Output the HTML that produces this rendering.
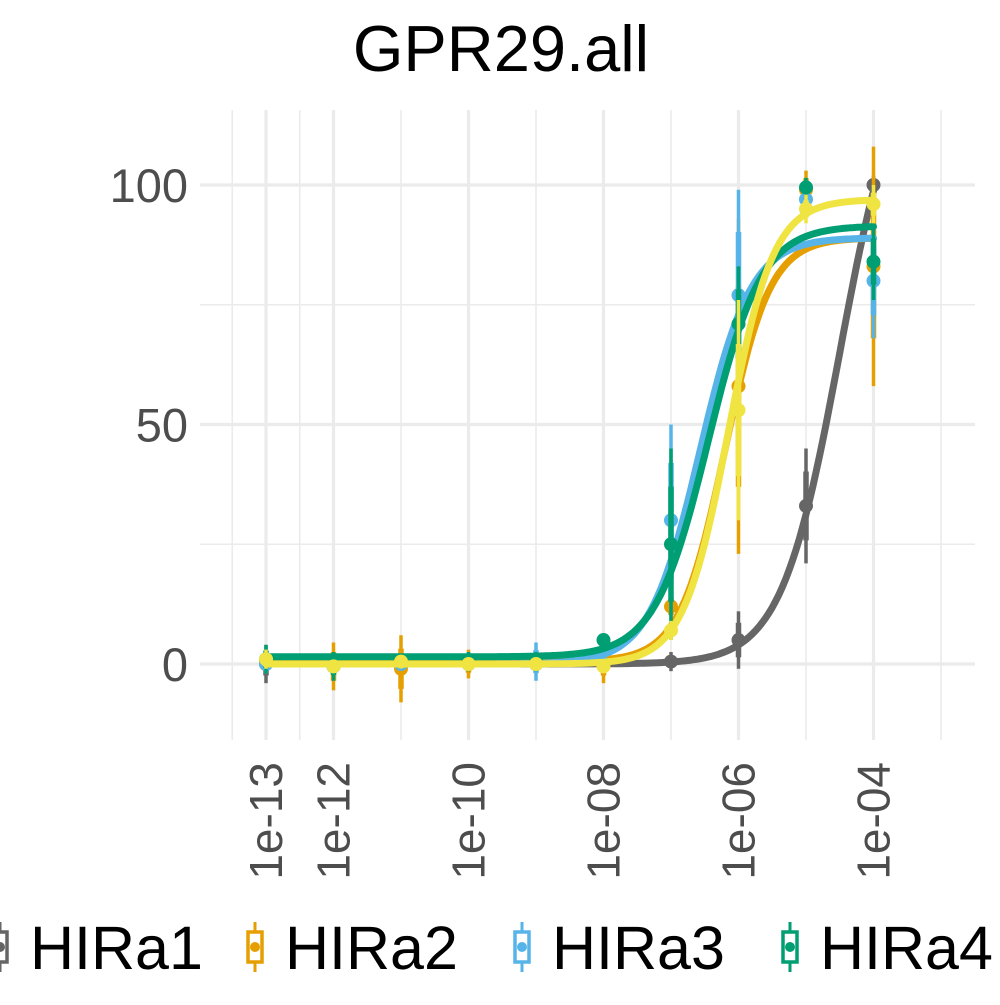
<!DOCTYPE html>
<html><head><meta charset="utf-8"><style>
body{margin:0;background:#fff;}
svg text{font-family:"Liberation Sans",Arial,sans-serif;}
</style></head><body>
<svg id="chart" width="1000" height="1000" viewBox="0 0 1000 1000" xmlns="http://www.w3.org/2000/svg">
<text x="501" y="71" font-size="65" text-anchor="middle" fill="#000">GPR29.all</text>
<g id="grid"></g>
<g id="series"></g>
<g id="axes"></g>
<g id="legend"></g>
</svg>
<script>
const doses = [-13,-12,-11,-10,-9,-8,-7,-6,-5,-4];
const seriesNames = ["HIRa1","HIRa2","HIRa3","HIRa4","HIRa5"];
const seriesColors = ["#666666","#E69F00","#56B4E9","#009E73","#F0E442"];
const hira1 = [0,0,0,0,0,0,0.5,5,33,100];
const hira2 = [0.5,-0.5,-1,0,0,0,12,58,99,83];
const hira3 = [0,0,0,0.5,0.5,0,30,77,97,80];
const hira4 = [1,-0.5,0.5,0.5,0.5,5,25,71,99.5,84];
const hira5 = [1,-0.5,0.5,0,0,-0.5,7,53,95,96];
const hira1Err = [4,1,2,2,2,1,2,6,12,2];
const hira2Err = [2,5,7,3,2,4,3,35,4,25];
const hira3Err = [2,1,1,2,4,1,20,22,3,12];
const hira4Err = [3,3,1,2,2,1,20,12,2,8];
const hira5Err = [2,1,1,1,1,1,2,23,3,4];
// fit params: bottom, top, logEC50, hill
const fitBottom = [0,0.5,0,1.5,0];
const fitTop = [130,89,89,91.5,97];
const fitLogEC50 = [-4.5,-6.2,-6.57,-6.45,-6.15];
const fitHill = [1,1.3,1.15,1.1,1.3];
const yTicks = [0,50,100];
const yMinor = [25,75];
const xTickLabels = ["1e-13","1e-12","1e-10","1e-08","1e-06","1e-04"];
const xTicks = [-13,-12,-10,-8,-6,-4];
const xMinor = [-13.5,-12.5,-11,-9,-7,-5,-3];

const X = l => 266 + (l + 13) * 67.5;
const Y = v => 664 - v * 4.79;
const NS = "http://www.w3.org/2000/svg";
function mk(tag, attrs, parent){const e=document.createElementNS(NS,tag);for(const k in attrs)e.setAttribute(k,attrs[k]);parent.appendChild(e);return e;}
const grid=document.getElementById('grid'), ser=document.getElementById('series'), axes=document.getElementById('axes'), leg=document.getElementById('legend');

yMinor.forEach(v=>{const l=mk('line',{x1:200,x2:975,y1:Y(v),y2:Y(v),stroke:'#EBEBEB','stroke-width':1.6},grid);

});
xMinor.forEach(v=>{const l=mk('line',{x1:X(v),x2:X(v),y1:110,y2:740,stroke:'#EBEBEB','stroke-width':1.6},grid);

});
yTicks.forEach(v=>{const l=mk('line',{x1:200,x2:975,y1:Y(v),y2:Y(v),stroke:'#EBEBEB','stroke-width':3.2},grid);


const t=mk('text',{x:188,y:Y(v)+17,'font-size':47,'text-anchor':'end',fill:'#4D4D4D'},axes);t.textContent=v;

});
xTicks.forEach((v,i)=>{const l=mk('line',{x1:X(v),x2:X(v),y1:110,y2:740,stroke:'#EBEBEB','stroke-width':3.2},grid);


const t=mk('text',{x:0,y:0,'font-size':46,'text-anchor':'end',fill:'#4D4D4D',transform:`translate(${X(v)+16},762) rotate(-90)`},axes);t.textContent=xTickLabels[i];

});

const allData=[hira1,hira2,hira3,hira4,hira5], allErr=[hira1Err,hira2Err,hira3Err,hira4Err,hira5Err];
allData.forEach((d,s)=>{
  const g=mk('g',{},ser);
  
  
  const c=seriesColors[s];
  let pts=[];
  for(let l=-13;l<=-4.0001+0.05;l+=0.05){const lv=Math.min(l,-4);const v=fitBottom[s]+(fitTop[s]-fitBottom[s])/(1+Math.pow(10,fitHill[s]*(fitLogEC50[s]-lv)));pts.push(X(lv).toFixed(1)+','+Y(Math.min(v,100.5)).toFixed(1));}
  const p=mk('polyline',{points:pts.join(' '),fill:'none',stroke:c,'stroke-width':7,'stroke-linejoin':'round','stroke-linecap':'round'},g);
  
  
  d.forEach((v,i)=>{
    const e=allErr[s][i];
    const eb=mk('line',{x1:X(doses[i]),x2:X(doses[i]),y1:Y(v+e),y2:Y(v-e),stroke:c,'stroke-width':3.5},g);
    
    
    const eb2=mk('line',{x1:X(doses[i]),x2:X(doses[i]),y1:Y(v+e*0.6),y2:Y(v-e*0.6),stroke:c,'stroke-width':5.5},g);
    
    
    const pt=mk('circle',{cx:X(doses[i]),cy:Y(v),r:7,fill:c},g);
    
    
  });
});

const legX=[0,255,522,790,1060];
seriesNames.forEach((n,s)=>{
  const g=mk('g',{},leg);
  
  
  const x=legX[s], c=seriesColors[s];
  mk('line',{x1:x,x2:x,y1:922,y2:972,stroke:c,'stroke-width':3},g);
  mk('rect',{x:x-7,y:932,width:14,height:30,fill:'#fff',stroke:c,'stroke-width':3.5},g);
  mk('circle',{cx:x,cy:947,r:5,fill:c},g);
  const t=mk('text',{x:x+30,y:969,'font-size':61,fill:'#000'},g);t.textContent=n;
  
  
});
</script>
</body></html>
